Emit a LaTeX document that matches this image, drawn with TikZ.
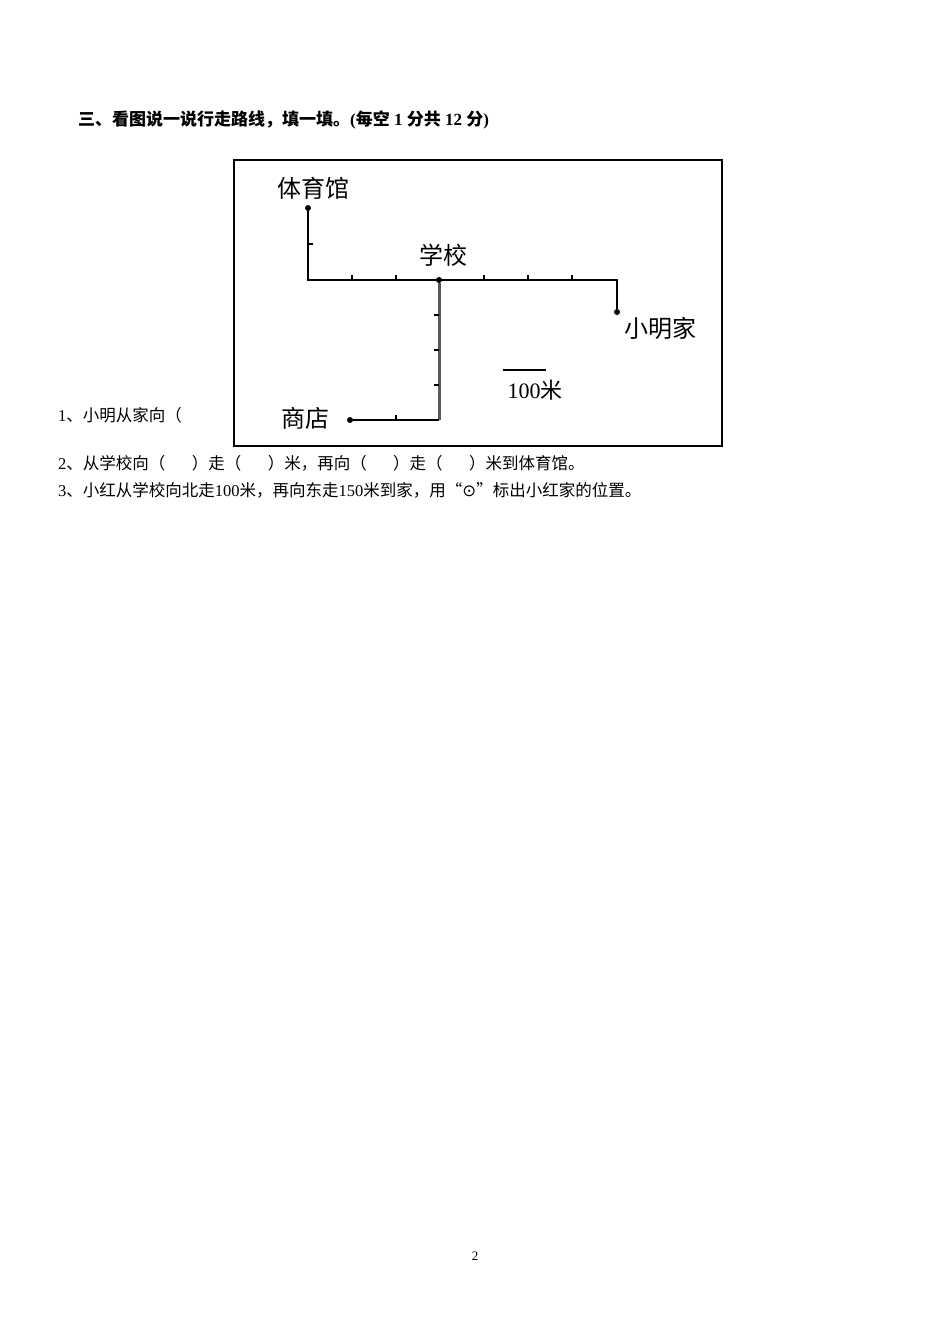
\documentclass[tikz,border=0pt]{standalone}
\usepackage{fontspec}
\setmainfont{Liberation Serif}
\newfontfamily\cjk{Noto Sans CJK SC}
\newfontfamily\djvfont{DejaVu Sans}
\begin{document}
\begin{tikzpicture}[x=1pt,y=-1pt,
  txt/.style={anchor=west,inner sep=0pt,font=\fontsize{16.5}{16.5}\selectfont},
  lbl/.style={inner sep=0pt,font=\cjk\fontsize{24}{24}\selectfont},
  road/.style={line width=2pt},
  dotp/.style={circle,fill=black,inner sep=0pt,minimum size=6pt}]
\useasboundingbox (0,0) rectangle (950,1344);
\node[txt,font=\bfseries\fontsize{17}{17}\selectfont] (h) at (78,120) {{\cjk\bfseries 三、看图说一说行走路线，填一填。}({\cjk\bfseries 每空} 1 {\cjk\bfseries 分共} 12 {\cjk\bfseries 分})};
\draw[line width=1.5pt] (234,160) rectangle (722,446);
\node[dotp] (gym) at (308,208) {};
\node[dotp] (school) at (439,280) {};
\node[dotp] (shop) at (350,420) {};
\node[dotp] (home) at (617,312) {};
\coordinate (c1) at (308,280);
\coordinate (c2) at (617,280);
\coordinate (c3) at (439,420);
\draw[road] (gym) -- (c1) -- (c2) -- (home);
\draw[line width=3pt,gray!70!black] (school) -- (c3);
\draw[road] (c3) -- (shop);
\foreach \x in {352,396,484,528,572} \draw[line width=1.5pt] (\x,280) -- (\x,275);
\foreach \y in {315,350,385} \draw[line width=1.5pt] (439,\y) -- (434,\y);
\draw[line width=1.5pt] (308,244) -- (313,244);
\draw[line width=1.5pt] (396,420) -- (396,415);
\node[lbl] (lg) at (313,188) {体育馆};
\node[lbl] (ls) at (443,255) {学校};
\node[lbl] (lh) at (660,328) {小明家};
\node[lbl] (lp) at (305,418) {商店};
\draw[line width=1.2pt] (503,370) -- (546,370);
\node[inner sep=0pt,font=\fontsize{22}{22}\selectfont] (sc) at (535,390) {100{\cjk 米}};
\node[txt] (q1) at (58,415) {1{\cjk 、小明从家向（}};
\node[txt] (q2) at (58,463) {2{\cjk 、从学校向（\hspace{1.6em}）走（\hspace{1.6em}）米，再向（\hspace{1.6em}）走（\hspace{1.6em}）米到体育馆。}};
\node[txt] (q3) at (58,490) {3{\cjk 、小红从学校向北走}100{\cjk 米，再向东走}150{\cjk 米到家，用“}{\djvfont ⊙}{\cjk ”标出小红家的位置。}};
\node[inner sep=0pt,font=\fontsize{13}{13}\selectfont] (pg) at (475,1256) {2};
\end{tikzpicture}
\end{document}
